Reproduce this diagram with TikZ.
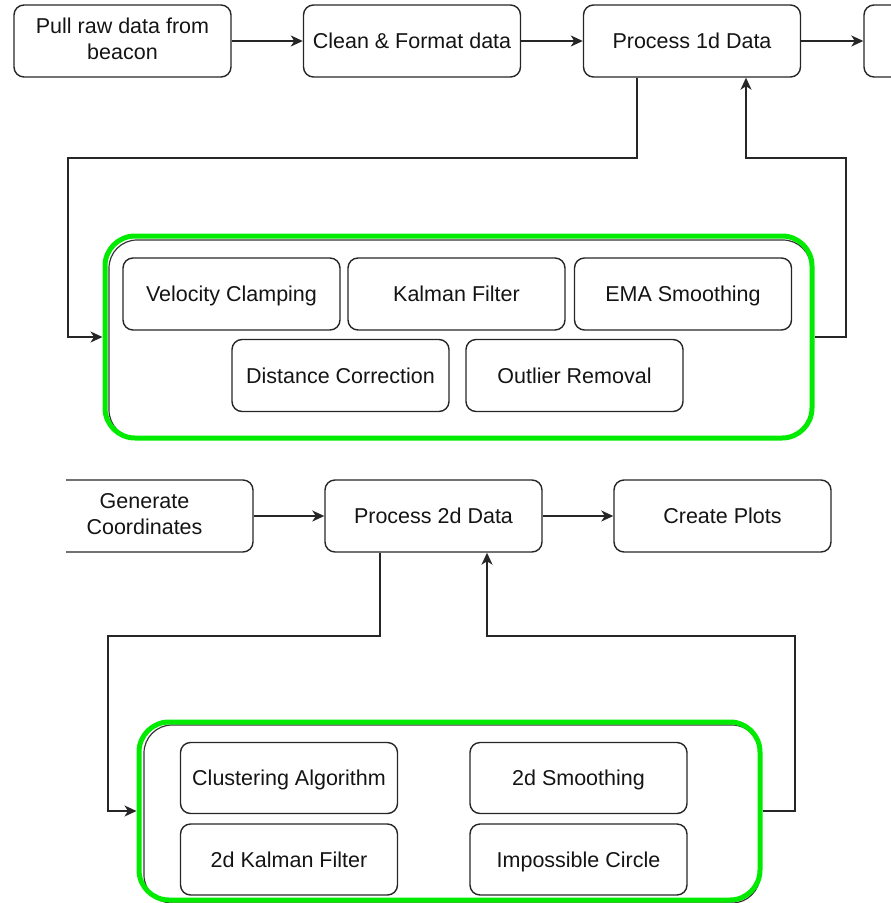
\documentclass[tikz,border=0pt]{standalone}
\usepackage{fontspec}
\setmainfont{Liberation Sans}
\usetikzlibrary{arrows.meta}
\definecolor{hilite}{RGB}{0,235,0}
\tikzset{
	stepbox/.style={draw=black!85, line width=1.4pt, rounded corners=10pt, minimum width=217pt, minimum height=72pt, align=center, text=black!92, font=\fontsize{21.5}{26}\selectfont, inner sep=0pt, execute at begin node=\rule{0pt}{19.5pt}, execute at end node=\vphantom{g}},
	holder/.style={draw=black!80, line width=1.2pt, rounded corners=28pt, inner sep=0pt},
	groupbox/.style={draw=hilite, line width=5pt, rounded corners=30pt, inner sep=0pt},
	conn/.style={line width=1.5pt, draw=black!85, -{Stealth[length=12pt,width=11pt,inset=3.5pt]}}
}

\begin{document}
\begin{tikzpicture}[x=1pt,y=-1pt]
			%%%%% START %%%%%
			\useasboundingbox (0,0) rectangle (891,903);
			\clip (0,0) rectangle (891,903);
			
			% 1d pipeline
			\node[stepbox] (pull) at (122.5,41) {Pull raw data from\\beacon};
			\node[stepbox] (clean) at (412,41) {Clean \& Format data};
			\node[stepbox] (proc1) at (692,41) {Process 1d Data};
			\node[stepbox] (next1) at (972.5,41) {};
			
			\draw[conn] (pull.east) -- (clean.west);
			\draw[conn] (clean.east) -- (proc1.west);
			\draw[conn] (proc1.east) -- (next1.west);
			
			% 1d filters
			\node[holder, minimum width=702pt, minimum height=198pt] (hold1) at (460,339) {};
			\node[groupbox, minimum width=707pt, minimum height=202pt] (grp1) at (458.5,337) {};
			
			\node[stepbox] (velocity) at (231.5,294) {Velocity Clamping};
			\node[stepbox] (kalman) at (456.5,294) {Kalman Filter};
			\node[stepbox] (ema) at (683,294) {EMA Smoothing};
			\node[stepbox] (distance) at (340.5,375.5) {Distance Correction};
			\node[stepbox] (outlier) at (574.5,375.5) {Outlier Removal};
			
			\coordinate (down1) at (68,158);
			\coordinate (up1) at (846,158);
			\draw[conn] ([xshift=-55pt]proc1.south) |- (down1) |- (grp1.west);
			\draw[conn] (grp1.east) -| (up1) -| ([xshift=54pt]proc1.south);
			
			% 2d pipeline
			\begin{scope}
				\clip (66,0) rectangle (891,903);
				\node[stepbox] (gencoords) at (144.5,516) {Generate\\Coordinates};
			\end{scope}
			\node[stepbox] (proc2) at (433.5,516) {Process 2d Data};
			\node[stepbox] (plots) at (722.5,516) {Create Plots};
			
			\draw[conn] (gencoords.east) -- (proc2.west);
			\draw[conn] (proc2.east) -- (plots.west);
			
			% 2d filters
			\node[holder, minimum width=616pt, minimum height=178pt] (hold2) at (452,814) {};
			\node[groupbox, minimum width=621pt, minimum height=178pt] (grp2) at (449.5,811) {};
			
			\node[stepbox, minimum height=71pt] (cluster) at (289,778) {Clustering Algorithm};
			\node[stepbox, minimum height=71pt] (smooth2d) at (578.5,778) {2d Smoothing};
			\node[stepbox, minimum height=71pt] (kalman2d) at (289,859.5) {2d Kalman Filter};
			\node[stepbox, minimum height=71pt] (impcircle) at (578.5,859.5) {Impossible Circle};
			
			\coordinate (down2) at (108,636);
			\coordinate (up2) at (795,636);
			\draw[conn] ([xshift=-53.5pt]proc2.south) |- (down2) |- (grp2.west);
			\draw[conn] (grp2.east) -| (up2) -| ([xshift=53.5pt]proc2.south);
			
			%%%%% END %%%%%
\end{tikzpicture}
\end{document}
